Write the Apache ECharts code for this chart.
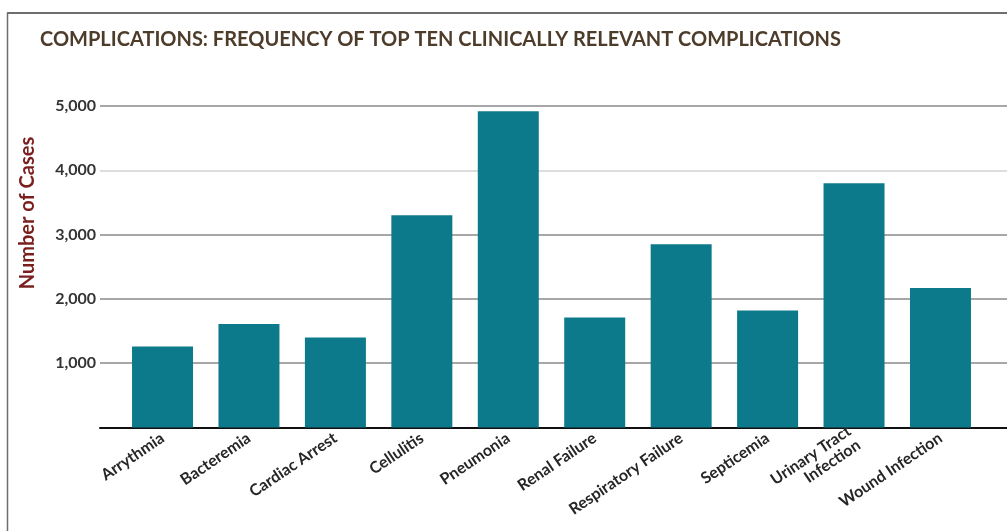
<!DOCTYPE html>
<html>
<head>
<meta charset="utf-8">
<script src="https://cdn.jsdelivr.net/npm/echarts@6/dist/echarts.min.js"></script>
<style>
  html, body { margin: 0; padding: 0; background: #ffffff; }
  #chart { width: 1007px; height: 531px; }
</style>
</head>
<body>
<div id="chart"></div>
<script>
// Top ten clinically relevant complications and their case counts
const categories = [
  'Arrythmia', 'Bacteremia', 'Cardiac Arrest', 'Cellulitis', 'Pneumonia',
  'Renal Failure', 'Respiratory Failure', 'Septicemia',
  'Urinary Tract\nInfection', 'Wound Infection'
];
const cases = [1260, 1610, 1400, 3300, 4920, 1710, 2850, 1820, 3800, 2170];

// Value axis ticks
const yTickValues = [0, 1000, 2000, 3000, 4000, 5000];
const yTickLabels = ['', '1,000', '2,000', '3,000', '4,000', '5,000'];

const titleText = 'COMPLICATIONS: FREQUENCY OF TOP TEN CLINICALLY RELEVANT COMPLICATIONS';
const yAxisTitle = 'Number of Cases';

const chart = echarts.init(document.getElementById('chart'), null, { renderer: 'canvas' });

const plotTop = 106;
const plotBottom = 103.5;

chart.setOption({
  backgroundColor: '#ffffff',
  animation: false,
  title: {
    text: titleText,
    left: 35,
    top: 25,
    textStyle: {
      fontFamily: 'Lato',
      fontSize: 20,
      fontWeight: 'bold',
      color: '#4e3c2b'
    }
  },
  graphic: [
    // page frame: top rule and left rule
    { type: 'line', shape: { x1: 7, y1: 13, x2: 1007, y2: 13 }, style: { stroke: '#6e6e6e', lineWidth: 2 } },
    { type: 'line', shape: { x1: 7.5, y1: 13, x2: 7.5, y2: 531 }, style: { stroke: '#6e6e6e', lineWidth: 1.5 } },
    {
      type: 'text',
      x: 28, y: 213,
      rotation: Math.PI / 2,
      style: {
        text: yAxisTitle,
        x: 0, y: 0,
        align: 'center',
        verticalAlign: 'middle',
        fontFamily: 'Lato',
        fontWeight: 'bold',
        fontSize: 20,
        fill: '#7a1e1e'
      }
    }
  ],
  grid: [
    // frame grid: gridlines, value labels and the baseline
    { left: 100, right: 0, top: plotTop, bottom: plotBottom },
    // bar grid
    { left: 119.3, right: 23.3, top: plotTop, bottom: plotBottom }
  ],
  xAxis: [
    {
      gridIndex: 0, type: 'value', min: 0, max: 1,
      axisLine: { show: true, lineStyle: { color: '#111111', width: 2 } },
      axisTick: { show: false }, axisLabel: { show: false }, splitLine: { show: false }
    },
    {
      gridIndex: 1, type: 'category', data: categories,
      axisLine: { show: false }, axisTick: { show: false },
      axisLabel: {
        interval: 0,
        rotate: 34,
        margin: 9,
        fontFamily: 'Lato',
        fontWeight: 'bold',
        fontSize: 16,
        lineHeight: 17,
        color: '#262626'
      }
    }
  ],
  yAxis: [
    {
      gridIndex: 0, type: 'value', min: 0, max: 5000, interval: 1000,
      axisLine: { show: false }, axisTick: { show: false },
      axisLabel: {
        margin: 4,
        fontFamily: 'Lato',
        fontWeight: 'bold',
        fontSize: 16,
        color: '#333333',
        formatter: function (v) { return yTickLabels[yTickValues.indexOf(v)] || ''; }
      },
      splitLine: {
        show: true,
        lineStyle: {
          color: ['rgba(0,0,0,0)', '#8a8a8a', '#8a8a8a', '#8a8a8a', '#d2d2d2', '#8a8a8a'],
          width: 1.5
        }
      }
    },
    {
      gridIndex: 1, type: 'value', min: 0, max: 5000, interval: 1000, show: false
    }
  ],
  series: [
    {
      type: 'bar',
      xAxisIndex: 1,
      yAxisIndex: 1,
      data: cases,
      barWidth: 61,
      itemStyle: { color: '#0d7a8b' }
    }
  ]
});
</script>
</body>
</html>
